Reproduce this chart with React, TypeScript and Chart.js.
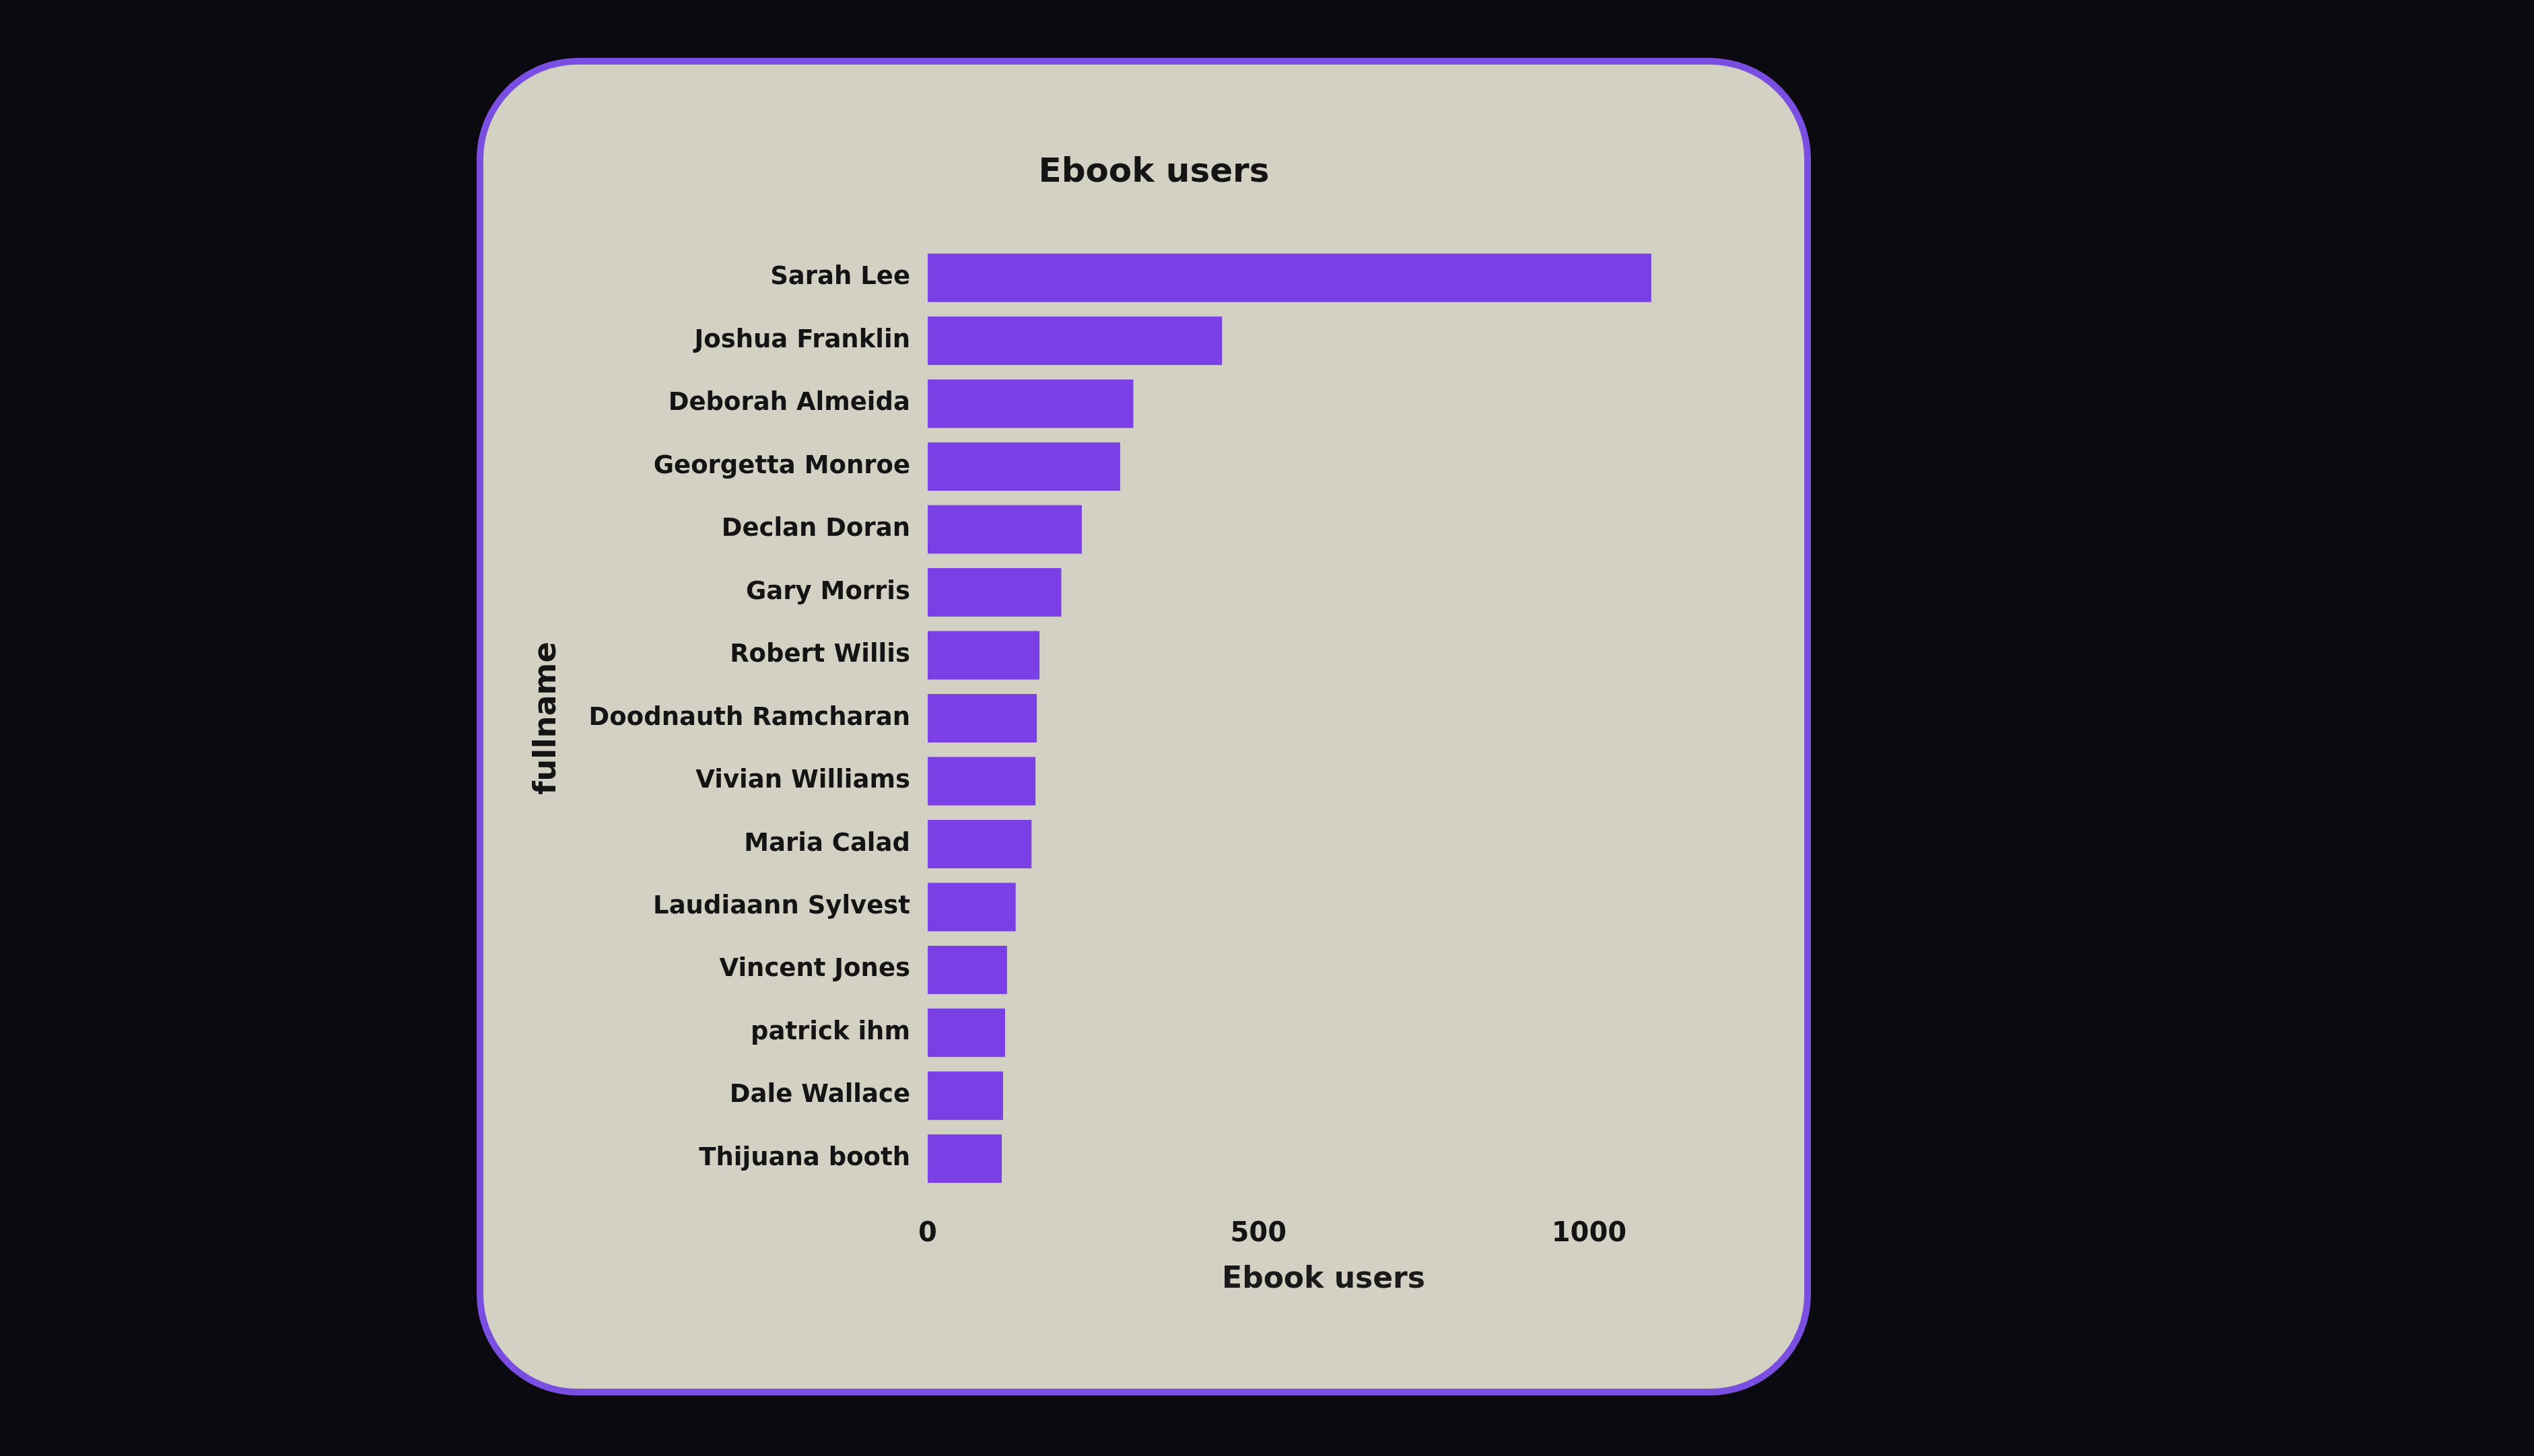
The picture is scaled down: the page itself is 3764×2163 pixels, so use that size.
import React, { useEffect, useRef } from "react";
import { Chart, registerables } from "chart.js";

Chart.register(...registerables);

const categories = [
  "Sarah Lee",
  "Joshua Franklin",
  "Deborah Almeida",
  "Georgetta Monroe",
  "Declan Doran",
  "Gary Morris",
  "Robert Willis",
  "Doodnauth Ramcharan",
  "Vivian Williams",
  "Maria Calad",
  "Laudiaann Sylvest",
  "Vincent Jones",
  "patrick ihm",
  "Dale Wallace",
  "Thijuana booth",
];

const ebookUsers = [1094, 445, 311, 291, 233, 202, 169, 165, 163, 157, 133, 120, 117, 114, 112];

const xTickValues = [0, 500, 1000];

const CARD_W = 1962;
const CARD_H = 1967;

export default function App() {
  const ref = useRef<HTMLCanvasElement | null>(null);

  useEffect(() => {
    if (!ref.current) return;
    const chart = new Chart(ref.current, {
      type: "bar",
      data: {
        labels: categories,
        datasets: [
          {
            label: "Ebook users",
            data: ebookUsers,
            backgroundColor: "#7b3fe6",
            borderWidth: 0,
            categoryPercentage: 0.77,
            barPercentage: 1,
          },
        ],
      },
      options: {
        indexAxis: "y",
        animation: false,
        responsive: false,
        layout: { padding: { left: 30, right: 0, top: 0, bottom: 135 } },
        plugins: {
          legend: { display: false },
          tooltip: { enabled: false },
          title: {
            display: true,
            text: "Ebook users",
            color: "#141414",
            font: { family: "DejaVu Sans", size: 50, weight: "bold" },
            padding: { top: 131, bottom: 79 },
          },
        },
        scales: {
          x: {
            min: 0,
            max: 1197,
            grid: { display: false, drawTicks: false },
            border: { display: false },
            afterBuildTicks: (scale: any) => {
              scale.ticks = xTickValues.map((v) => ({ value: v }));
            },
            afterFit: (scale: any) => {
              scale.height = 160;
            },
            ticks: {
              color: "#141414",
              padding: 42,
              maxRotation: 0,
              callback: (v: any) => String(v),
              font: { family: "DejaVu Sans", size: 40, weight: "bold" },
            },
            title: {
              display: true,
              text: "Ebook users",
              color: "#1a1a1a",
              font: { family: "DejaVu Sans", size: 44, weight: "bold" },
              padding: { top: 8, bottom: 0 },
            },
          },
          y: {
            grid: { display: false, drawTicks: false },
            border: { display: false },
            afterFit: (scale: any) => {
              scale.width = 630;
            },
            ticks: {
              color: "#141414",
              padding: 26,
              font: { family: "DejaVu Sans", size: 37, weight: "bold" },
            },
            title: {
              display: true,
              text: "fullname",
              color: "#141414",
              font: { family: "DejaVu Sans", size: 46, weight: "bold" },
              padding: { top: 37, bottom: 0 },
            },
          },
          spacer: {
            type: "linear",
            axis: "y",
            position: "right",
            display: true,
            grid: { display: false, drawTicks: false },
            border: { display: false },
            ticks: { display: false },
            afterFit: (scale: any) => {
              scale.width = 126;
            },
          },
        },
      },
    });
    return () => chart.destroy();
  }, []);

  return (
    <div
      style={{
        position: "absolute",
        left: 0,
        top: 0,
        width: 3764,
        height: 2163,
        background: "#0a0a10",
        overflow: "hidden",
      }}
    >
      <div
        style={{
          position: "absolute",
          left: 708,
          top: 86,
          width: CARD_W,
          height: CARD_H,
          border: "10px solid #7a4ee0",
          borderRadius: 150,
          background: "#d3d1c4",
          overflow: "hidden",
        }}
      >
        <canvas ref={ref} width={CARD_W} height={CARD_H} style={{ display: "block" }} />
      </div>
    </div>
  );
}
